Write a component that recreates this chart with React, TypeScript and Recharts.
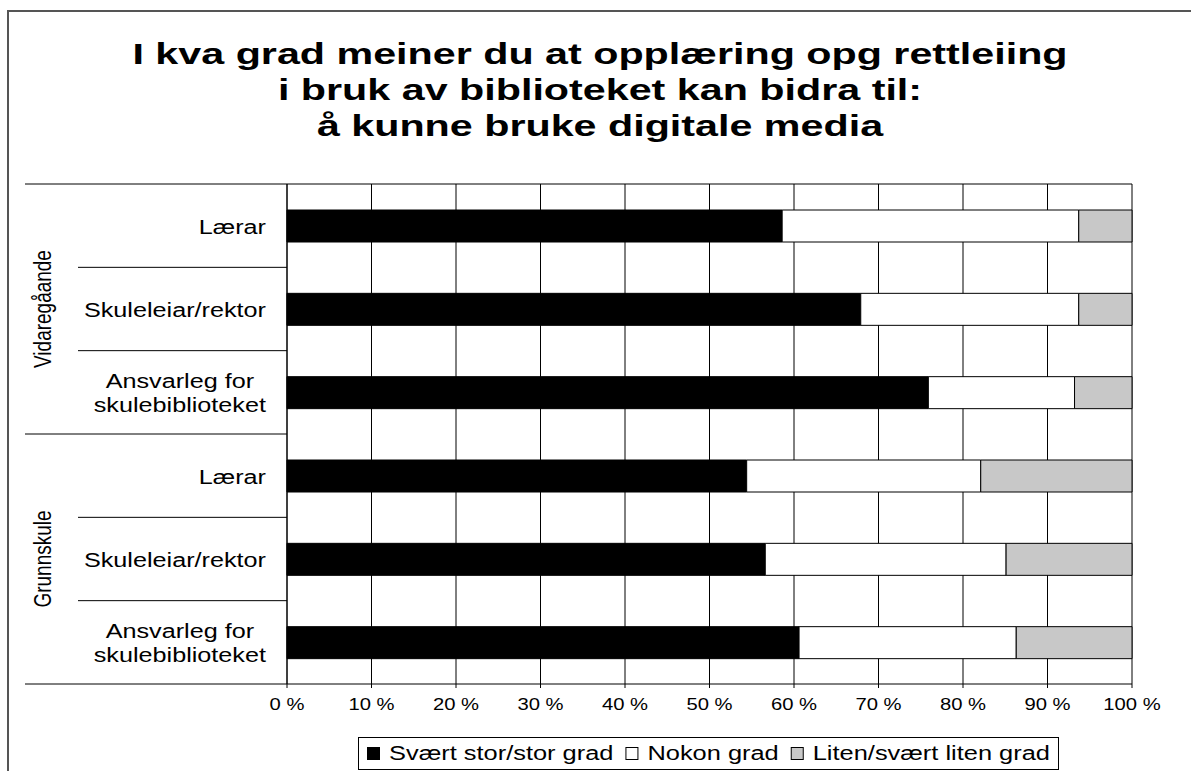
import React from 'react';
import { BarChart, Bar, XAxis, YAxis, CartesianGrid } from 'recharts';

const categoryIds = ['vgs-laerar', 'vgs-leiar', 'vgs-ansvar', 'gs-laerar', 'gs-leiar', 'gs-ansvar'];
const categoryLabels = [
  'Lærar',
  'Skuleleiar/rektor',
  'Ansvarleg for\nskulebiblioteket',
  'Lærar',
  'Skuleleiar/rektor',
  'Ansvarleg for\nskulebiblioteket',
];
const categoryGroups = ['Vidaregåande', 'Vidaregåande', 'Vidaregåande', 'Grunnskule', 'Grunnskule', 'Grunnskule'];

const seriesKeys = ['svaert', 'nokon', 'liten'];
const seriesNames = ['Svært stor/stor grad', 'Nokon grad', 'Liten/svært liten grad'];
const seriesColors = ['#000000', '#ffffff', '#c8c8c8'];

const svaertStorGrad = [58.6, 67.9, 75.9, 54.4, 56.6, 60.6];
const nokonGrad = [35.1, 25.8, 17.3, 27.7, 28.5, 25.7];
const litenGrad = [6.3, 6.3, 6.8, 17.9, 14.9, 13.7];

const xTicks = [0, 10, 20, 30, 40, 50, 60, 70, 80, 90, 100];

const titleLines = [
  'I kva grad meiner du at opplæring opg rettleiing',
  'i bruk av biblioteket kan bidra til:',
  'å kunne bruke digitale media',
];

const data = categoryIds.map((id, i) => ({
  id,
  svaert: svaertStorGrad[i],
  nokon: nokonGrad[i],
  liten: litenGrad[i],
}));

const W = 1191;
const H = 771;
const PLOT = { left: 287, right: 1132, top: 184, bottom: 684 };
const FONT = '"Liberation Sans", Arial, sans-serif';
// the source picture is stretched sideways, so text gets a horizontal scale
const STRETCH = 1.2;

let canvas: HTMLCanvasElement | null = null;
function textWidth(text: string, size: number, weight = 'normal') {
  if (!canvas) canvas = document.createElement('canvas');
  const ctx = canvas.getContext('2d')!;
  ctx.font = `${weight} ${size}px "Liberation Sans", Arial, sans-serif`;
  return ctx.measureText(text).width;
}

function StretchText({ x, y, s, size, anchor = 'start', children }: any) {
  return (
    <text
      transform={`translate(${x} ${y}) scale(${s} 1)`}
      x={0}
      y={0}
      textAnchor={anchor}
      fontFamily={FONT}
      fontSize={size}
      fill="#000"
    >
      {children}
    </text>
  );
}

function CategoryTick({ x, y, payload }: any) {
  const i = categoryIds.indexOf(payload.value);
  const n = categoryIds.length;
  const step = (PLOT.bottom - PLOT.top) / n;
  const lines = categoryLabels[i].split('\n');
  const blockW = Math.max(...lines.map((l) => textWidth(l, 21))) * STRETCH;
  const cx = x - blockW / 2;
  const group = categoryGroups[i];
  const first = i === 0 || categoryGroups[i - 1] !== group;
  const last = i === n - 1 || categoryGroups[i + 1] !== group;
  const groupSize = categoryGroups.filter((g) => g === group).length;
  const groupMid = y - step / 2 + (groupSize * step) / 2;

  return (
    <g>
      {i === 0 && <line x1={25} x2={PLOT.left} y1={y - step / 2} y2={y - step / 2} stroke="#000" />}
      <line x1={last ? 25 : 78} x2={PLOT.left} y1={y + step / 2} y2={y + step / 2} stroke="#000" />
      {lines.map((l, k) => (
        <StretchText
          key={k}
          x={cx}
          y={y + 8 + (k - (lines.length - 1) / 2) * 24}
          s={STRETCH}
          size={21}
          anchor="middle"
        >
          {l}
        </StretchText>
      ))}
      {first && (
        <text
          transform={`translate(51 ${groupMid}) scale(1.3 1) rotate(-90)`}
          textAnchor="middle"
          fontFamily={FONT}
          fontSize={19}
          fill="#000"
        >
          {group}
        </text>
      )}
    </g>
  );
}

function PercentTick({ x, y, payload }: any) {
  return (
    <StretchText x={x} y={y + 18} s={1.19} size={17} anchor="middle">
      {`${payload.value} %`}
    </StretchText>
  );
}

function LegendBox() {
  const size = 20;
  const s = 1.27;
  let cursor = 367;
  const items = seriesNames.map((name, i) => {
    const mx = cursor;
    const tx = mx + 22;
    const w = textWidth(name, size) * s;
    cursor = tx + w + 12;
    return { name, color: seriesColors[i], mx, tx };
  });
  return (
    <svg width={W} height={H} style={{ position: 'absolute', left: 0, top: 0, pointerEvents: 'none' }}>
      <rect x={358.5} y={737.5} width={700} height={32} fill="#fff" stroke="#000" />
      {items.map((it) => (
        <g key={it.name}>
          <rect x={it.mx + 0.5} y={747.5} width={12} height={12} fill={it.color} stroke="#000" />
          <StretchText x={it.tx} y={760} s={s} size={size}>
            {it.name}
          </StretchText>
        </g>
      ))}
    </svg>
  );
}

export default function App() {
  return (
    <div
      style={{
        position: 'absolute',
        left: 0,
        top: 0,
        width: W,
        height: H,
        overflow: 'hidden',
        background: '#fff',
      }}
    >
      <div
        style={{
          position: 'absolute',
          left: 7,
          top: 10,
          width: W + 50,
          height: H + 50,
          border: '2px solid #555',
        }}
      />
      <div
        style={{
          position: 'absolute',
          left: 0,
          top: 36,
          width: 1200,
          textAlign: 'center',
          fontFamily: FONT,
          fontWeight: 'bold',
          fontSize: 30,
          lineHeight: '36px',
          color: '#000',
          transform: 'scaleX(1.375)',
          transformOrigin: '600px 0',
          whiteSpace: 'nowrap',
        }}
      >
        {titleLines.map((l) => (
          <div key={l}>{l}</div>
        ))}
      </div>
      <div style={{ position: 'absolute', left: 0, top: 0 }}>
        <BarChart
          width={W}
          height={H}
          data={data}
          layout="vertical"
          barSize={32}
          margin={{ top: PLOT.top, right: W - PLOT.right, bottom: H - PLOT.bottom - 30, left: 0 }}
        >
          <CartesianGrid
            stroke="#000"
            horizontalCoordinatesGenerator={({ offset }: any) => [offset.top]}
            verticalFill={[]}
          />
          <XAxis
            type="number"
            domain={[0, 100]}
            ticks={xTicks}
            interval={0}
            height={30}
            tickSize={4}
            tickMargin={4}
            tick={<PercentTick />}
            axisLine={{ stroke: '#000' }}
            tickLine={{ stroke: '#000' }}
          />
          <YAxis
            type="category"
            dataKey="id"
            width={PLOT.left}
            interval={0}
            tickSize={0}
            tickMargin={21}
            tick={<CategoryTick />}
            tickLine={false}
            axisLine={{ stroke: '#000' }}
          />
          {seriesKeys.map((k, i) => (
            <Bar
              key={k}
              dataKey={k}
              name={seriesNames[i]}
              stackId="a"
              fill={seriesColors[i]}
              stroke="#000"
              strokeWidth={1}
              isAnimationActive={false}
            />
          ))}
        </BarChart>
      </div>
      <LegendBox />
    </div>
  );
}
